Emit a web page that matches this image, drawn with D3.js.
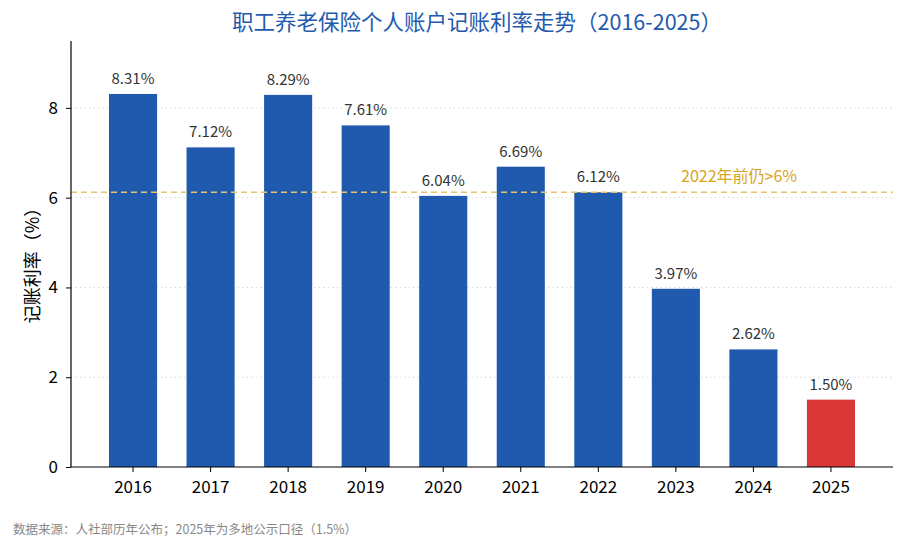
<!DOCTYPE html>
<html>
<head>
<meta charset="utf-8">
<script src="https://cdn.jsdelivr.net/npm/d3@7"></script>
<style>
  body { margin: 0; background: #fff; }
  text { font-family: "Noto Sans CJK SC", "Noto Sans", sans-serif; }
</style>
</head>
<body>
<div id="chart"></div>
<script>
const years = ["2016", "2017", "2018", "2019", "2020", "2021", "2022", "2023", "2024", "2025"];
const rates = [8.31, 7.12, 8.29, 7.61, 6.04, 6.69, 6.12, 3.97, 2.62, 1.50];
const yTicks = [0, 2, 4, 6, 8];
const refValue = 6.12;

const width = 907, height = 550;
const margin = { top: 41, right: 14, bottom: 83, left: 71 };

const svg = d3.select("#chart").append("svg")
    .attr("width", width)
    .attr("height", height);

const x = d3.scaleBand()
    .domain(years)
    .range([margin.left, width - margin.right])
    .paddingInner(0.38)
    .paddingOuter(0.49);

const y = d3.scaleLinear()
    .domain([0, 9.49])
    .range([height - margin.bottom, margin.top]);

// gridlines
svg.append("g")
    .selectAll("line")
    .data(yTicks.filter(d => d > 0))
    .join("line")
    .attr("x1", margin.left)
    .attr("x2", width - margin.right)
    .attr("y1", d => y(d))
    .attr("y2", d => y(d))
    .attr("stroke", "#d8d8d8")
    .attr("stroke-width", 1)
    .attr("stroke-dasharray", "1.5,3");

// bars
svg.append("g")
    .selectAll("rect")
    .data(years)
    .join("rect")
    .attr("x", d => x(d))
    .attr("y", (d, i) => y(rates[i]))
    .attr("width", x.bandwidth())
    .attr("height", (d, i) => y(0) - y(rates[i]))
    .attr("fill", (d, i) => d === "2025" ? "#d93636" : "#1f5aae");

// value labels
svg.append("g")
    .selectAll("text")
    .data(years)
    .join("text")
    .attr("x", d => x(d) + x.bandwidth() / 2)
    .attr("y", (d, i) => y(rates[i]) - 10)
    .attr("text-anchor", "middle")
    .attr("font-size", 15)
    .attr("fill", "#333")
    .text((d, i) => rates[i].toFixed(2) + "%");

// reference line
svg.append("line")
    .attr("x1", margin.left)
    .attr("x2", width - margin.right)
    .attr("y1", y(refValue))
    .attr("y2", y(refValue))
    .attr("stroke", "#e8c46e")
    .attr("stroke-width", 1.5)
    .attr("stroke-dasharray", "6,4");

svg.append("text")
    .attr("x", 681)
    .attr("y", y(refValue) - 10)
    .attr("font-size", 16)
    .attr("fill", "#d9a520")
    .text("2022年前仍>6%");

// axes
const xAxis = svg.append("g")
    .attr("transform", `translate(0,${y(0)})`)
    .call(d3.axisBottom(x).tickSize(5).tickPadding(9));
xAxis.select(".domain").attr("d", `M${margin.left},0H${width - margin.right}`);
xAxis.selectAll("text").attr("font-size", 17).attr("fill", "#000");

const yAxis = svg.append("g")
    .attr("transform", `translate(${margin.left},0)`)
    .call(d3.axisLeft(y).tickValues(yTicks).tickSize(5).tickPadding(8));
yAxis.select(".domain").attr("d", `M0,${y(0)}V${margin.top}`);
yAxis.selectAll("text").attr("font-size", 17).attr("fill", "#000");

svg.selectAll(".domain").attr("stroke", "#000").attr("stroke-width", 1.2);

// titles
svg.append("text")
    .attr("x", 477)
    .attr("y", 30)
    .attr("text-anchor", "middle")
    .attr("font-size", 21.5)
    .attr("fill", "#1f5aae")
    .text("职工养老保险个人账户记账利率走势（2016-2025）");

svg.append("text")
    .attr("transform", `translate(39,${(y(0) + margin.top) / 2 + 7}) rotate(-90)`)
    .attr("text-anchor", "middle")
    .attr("font-size", 18)
    .attr("fill", "#000")
    .text("记账利率（%）");

svg.append("text")
    .attr("x", 13)
    .attr("y", 534)
    .attr("font-size", 12.5)
    .attr("fill", "#888")
    .text("数据来源：人社部历年公布；2025年为多地公示口径（1.5%）");
</script>
</body>
</html>
